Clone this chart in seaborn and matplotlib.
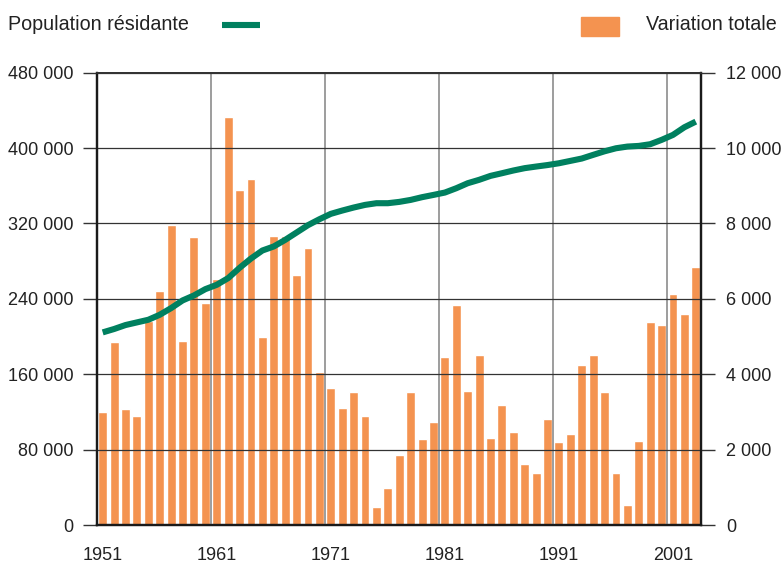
import numpy as np
import pandas as pd
import matplotlib
matplotlib.use("Agg")
import matplotlib.pyplot as plt
import seaborn as sns
from matplotlib.lines import Line2D
from matplotlib.patches import Rectangle

# Data
years = list(range(1951, 2004))
variation = [2990, 4860, 3090, 2880, 5400, 6200, 7970, 4890, 7650, 5900,
             6530, 10830, 8890, 9180, 4980, 7670, 7670, 6640, 7350, 4070,
             3640, 3110, 3540, 2900, 490, 970, 1870, 3540, 2290, 2720,
             4470, 5840, 3560, 4520, 2320, 3190, 2480, 1630, 1390, 2800,
             2190, 2420, 4250, 4520, 3540, 1390, 540, 2240, 5390, 5310,
             6140, 5610, 6850]
population = [204400, 208000, 212200, 215000, 217800, 223100, 230200, 238300, 243600, 250300,
              254900, 262000, 272900, 282800, 291300, 295600, 302600, 310400, 318200, 324500,
              330200, 333700, 336900, 339700, 341500, 341500, 342900, 345000, 347900, 350300,
              352800, 357400, 362700, 366300, 370500, 373300, 376200, 378700, 380400, 382000,
              383900, 386400, 388900, 392800, 396600, 399800, 401600, 402300, 404100, 408700,
              414000, 422100, 428100]
year_labels = ["1951", "1961", "1971", "1981", "1991", "2001"]

bar_color = "#f49350"
line_color = "#00805f"
text_color = "#222222"

sns.set_style("white")
plt.rcParams['font.family'] = ['Liberation Sans', 'DejaVu Sans']
plt.rcParams['font.size'] = 13

df = pd.DataFrame({"idx": np.arange(len(years)), "variation": variation, "population": population})

fig = plt.figure(figsize=(7.82, 5.66), dpi=100)
ax = fig.add_axes([97 / 782, 1 - 525 / 566, (701.5 - 97) / 782, (525 - 72.7) / 566])

# bars on the (right-hand) variation scale
sns.barplot(data=df, x="idx", y="variation", color=bar_color, saturation=1,
            width=0.78, ax=ax, zorder=1)
ax.set_ylim(0, 12000)
ax.set_xlim(-0.5, len(years) - 0.5)
ax.set_xlabel("")
ax.set_ylabel("")

# line on the (left-hand) population scale
ax2 = ax.twinx()
sns.lineplot(data=df, x="idx", y="population", color=line_color, lw=4.4,
             ax=ax2, solid_capstyle="butt")
ax2.set_ylim(0, 480000)
ax2.set_xlim(-0.5, len(years) - 0.5)
ax2.set_xlabel("")
ax2.set_ylabel("")

# put the variation axis on the right, population on the left
ax.yaxis.tick_right()
ax2.yaxis.tick_left()

fmt = plt.FuncFormatter(lambda v, _: f"{int(v):,}".replace(",", " "))
ax.set_yticks(np.arange(0, 12001, 2000))
ax.yaxis.set_major_formatter(fmt)
ax2.set_yticks(np.arange(0, 480001, 80000))
ax2.yaxis.set_major_formatter(fmt)

# x labels in the middle of the year slots, grid/ticks at slot edges
ax.set_xticks(np.arange(0, len(years), 10))
ax.set_xticklabels(year_labels)
ax.set_xticks(np.arange(-0.5, len(years), 10), minor=True)
ax.tick_params(axis="x", which="major", length=0, pad=16, colors=text_color, labelsize=13)
ax.tick_params(axis="x", which="minor", length=10, width=1.2, color="#555555")
ax2.tick_params(axis="x", which="both", length=0, labelbottom=False)

ax.tick_params(axis="y", which="major", length=10, width=1, color="#333333",
               pad=8, labelcolor=text_color, labelsize=13)
ax2.tick_params(axis="y", which="major", length=10, width=1, color="#333333",
                pad=7, labelcolor=text_color, labelsize=13)

ax.set_axisbelow(False)
ax.grid(False)
ax.yaxis.grid(True, color="#333333", lw=0.9)
ax.xaxis.grid(True, which="minor", color="#8c8c8c", lw=1.2)
ax2.grid(False)

for a in (ax, ax2):
    for side in ("left", "right", "bottom"):
        a.spines[side].set_visible(True)
        a.spines[side].set_color("#1a1a1a")
        a.spines[side].set_linewidth(1.6)
    a.spines["top"].set_color("#333333")
    a.spines["top"].set_linewidth(1.3)
ax2.patch.set_visible(False)

# legend drawn as a header row
y_leg = 1 - 25 / 566
fig.text(8 / 782, y_leg, "Population résidante", fontsize=14.2, color=text_color,
         va="center", ha="left")
fig.add_artist(Line2D([222 / 782, 260 / 782], [y_leg, y_leg], color=line_color,
                      lw=4.4, solid_capstyle="butt", transform=fig.transFigure))
fig.add_artist(Rectangle((581 / 782, 1 - 36 / 566), 38 / 782, 19 / 566,
                         color=bar_color, transform=fig.transFigure))
fig.text(646 / 782, y_leg, "Variation totale", fontsize=14.2, color=text_color,
         va="center", ha="left")

fig.savefig("out.png", dpi=100)
